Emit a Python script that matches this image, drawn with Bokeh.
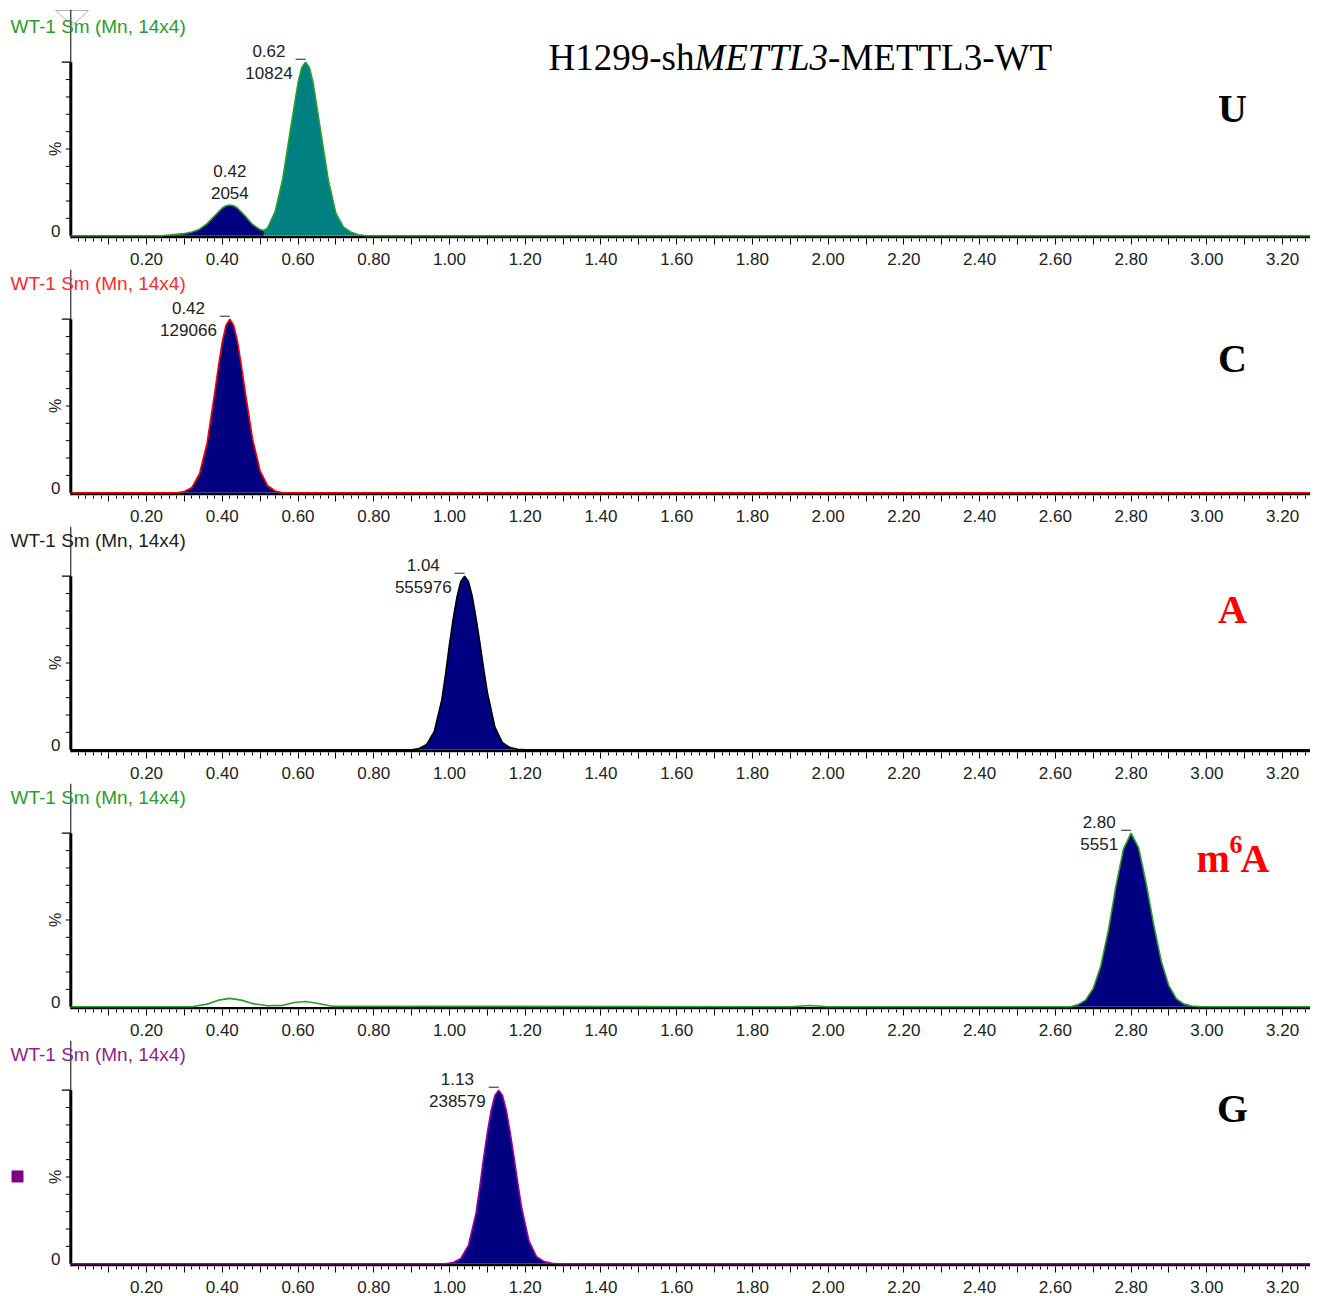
import math
from bokeh.plotting import figure
from bokeh.layouts import column
from bokeh.models import (FixedTicker, CustomJSTickFormatter, Label, Span,
                          PolyAnnotation, Range1d)
from bokeh.embed import file_html
from bokeh.resources import INLINE

# ---------------- data (retention time in min, intensity in %) ----------------
time_U = [0.00, 0.24, 0.26, 0.28, 0.30, 0.32, 0.34, 0.36, 0.38, 0.40, 0.41, 0.42,
          0.43, 0.44, 0.46, 0.48, 0.50, 0.51, 0.52, 0.54, 0.56, 0.58, 0.60, 0.61,
          0.62, 0.63, 0.64, 0.66, 0.68, 0.70, 0.72, 0.74, 0.76, 0.78, 3.30]
pct_U = [0, 0, 0.4, 0.8, 1.2, 2.2, 3.8, 7.0, 11.5, 16.0, 17.3, 17.7,
         17.3, 16.0, 11.5, 6.5, 3.5, 3.0, 4.5, 14, 33, 61, 88, 97,
         100, 97, 88, 60, 32, 13, 5, 2, 0.6, 0, 0]

time_C = [0.00, 0.28, 0.30, 0.32, 0.34, 0.36, 0.38, 0.39, 0.40, 0.41, 0.42, 0.43,
          0.44, 0.45, 0.46, 0.48, 0.50, 0.52, 0.54, 0.56, 3.30]
pct_C = [0, 0, 0.7, 3.1, 11, 28.7, 57.5, 73, 87, 96.6, 100, 96.6,
         87.5, 74, 59, 31, 12.5, 4, 1, 0, 0]

time_A = [0.00, 0.90, 0.92, 0.94, 0.96, 0.98, 0.99, 1.00, 1.01, 1.02, 1.03, 1.04,
          1.05, 1.06, 1.07, 1.08, 1.09, 1.10, 1.12, 1.14, 1.16, 1.18, 1.20, 3.30]
pct_A = [0, 0, 0.7, 3.0, 10.5, 29, 44, 60.7, 75.5, 88.2, 97, 100,
         97, 88.5, 76, 62, 47, 33, 13, 4, 1.2, 0.3, 0, 0]

time_m6A = [0.00, 0.32, 0.36, 0.39, 0.42, 0.45, 0.48, 0.52, 0.56, 0.59, 0.62, 0.65,
            0.69, 1.90, 1.95, 2.00, 2.64, 2.66, 2.68, 2.70, 2.72, 2.74, 2.76, 2.78,
            2.80, 2.82, 2.84, 2.86, 2.88, 2.90, 2.92, 2.94, 2.96, 2.98, 3.00, 3.30]
pct_m6A = [0, 0, 1.5, 3.8, 4.8, 3.8, 1.8, 0.6, 0.8, 2.4, 3.0, 2.0,
           0.3, 0, 0.7, 0, 0, 1.2, 3.8, 10.5, 23.5, 44, 69.5, 91,
           100, 91.5, 71, 47, 26, 12, 4.5, 1.5, 0.4, 0.1, 0, 0]

time_G = [0.00, 0.99, 1.01, 1.03, 1.05, 1.07, 1.08, 1.09, 1.10, 1.11, 1.12, 1.13,
          1.14, 1.15, 1.16, 1.17, 1.18, 1.19, 1.21, 1.23, 1.25, 1.27, 1.29, 3.30]
pct_G = [0, 0, 0.7, 3.0, 10.5, 29, 44, 60.7, 75.5, 88.2, 97, 100,
         97, 88.5, 76, 62, 47, 33, 13, 4, 1.2, 0.3, 0, 0]

# integrated peak windows (start, end)
fills_U = [(0.24, 0.51), (0.51, 0.78)]
fills_C = [(0.28, 0.56)]
fills_A = [(0.90, 1.20)]
fills_m6A = [(2.64, 3.00)]
fills_G = [(0.99, 1.29)]

# peak annotations: retention time, peak area, apex height (%)
peak_rt_U = [0.42, 0.62]
peak_area_U = [2054, 10824]
peak_h_U = [17.7, 100]
peak_rt_C = [0.42]
peak_area_C = [129066]
peak_h_C = [100]
peak_rt_A = [1.04]
peak_area_A = [555976]
peak_h_A = [100]
peak_rt_m6A = [2.80]
peak_area_m6A = [5551]
peak_h_m6A = [100]
peak_rt_G = [1.13]
peak_area_G = [238579]
peak_h_G = [100]

header_text = "WT-1 Sm (Mn, 14x4)"
y_percent_ticks = [10, 20, 30, 40, 50, 60, 70, 80, 90]

# ---------------- layout constants ----------------
PX_MIN = 378.67      # px per minute
PX_PCT = 1.735       # px per %
X0_PX = 70.3         # page x of t = 0
FRAME_W = 1310
BOTTOM = 31
Y0 = -1.6
X_START = -X0_PX / PX_MIN
X_END = X_START + FRAME_W / PX_MIN

GREEN = "#2a9d2a"
NAVY = "#000080"
TEAL = "#008080"
TXT = "#222222"
SANS = "Liberation Sans"
SERIF = "Liberation Serif"

x_major = [round(0.1 * k, 1) for k in range(1, 33)]
x_minor = [round(0.02 * k, 2) for k in range(1, 164) if k % 5 != 0]


def dx(px):
    return px / PX_MIN


def dy(px):
    return px / PX_PCT


def est_w(s, fs):
    return fs * sum(0.278 if c == "." else 0.556 for c in s)


def make_panel(times, pcts, fills, fill_colors, line_color, header_color,
               peaks, tag_parts, tag_y, frame_h=226, top=0, bottom=BOTTOM):
    p = figure(width=FRAME_W, height=top + frame_h + bottom,
               output_backend="svg", toolbar_location=None,
               x_range=Range1d(X_START, X_END),
               y_range=Range1d(Y0, Y0 + frame_h / PX_PCT),
               min_border_left=0, min_border_right=0,
               min_border_top=top, min_border_bottom=bottom)
    p.outline_line_color = None
    p.xgrid.visible = False
    p.ygrid.visible = False
    p.yaxis.visible = False
    p.background_fill_color = "white"
    p.border_fill_color = "white"

    # x axis (time)
    xa = p.xaxis[0]
    xa.ticker = FixedTicker(ticks=x_major, minor_ticks=x_minor)
    xa.formatter = CustomJSTickFormatter(
        code="return (Math.round(tick*10) % 2 == 0) ? tick.toFixed(2) : '';")
    xa.axis_line_color = None
    xa.major_tick_out = 6
    xa.major_tick_in = 0
    xa.minor_tick_out = 3
    xa.minor_tick_in = 0
    xa.major_tick_line_color = "black"
    xa.minor_tick_line_color = "black"
    xa.major_label_text_font = SANS
    xa.major_label_text_font_size = "17px"
    xa.major_label_text_color = TXT
    xa.major_label_standoff = 8
    # thick time-axis line starting at t = 0
    p.segment(x0=[0], y0=[Y0 + dy(1.3)], x1=[X_END], y1=[Y0 + dy(1.3)],
              line_width=2.6, line_color="black")

    # intensity scale at t = 0
    p.add_layout(Span(location=0, dimension="height", line_color="black",
                      line_width=1))
    p.segment(x0=[0], y0=[0], x1=[0], y1=[100], line_width=3, line_color="black")
    p.segment(x0=[-dx(5)] * len(y_percent_ticks), y0=y_percent_ticks,
              x1=[0] * len(y_percent_ticks), y1=y_percent_ticks,
              line_width=1, line_color="black")
    p.segment(x0=[-dx(9)], y0=[100], x1=[0], y1=[100], line_width=1.2,
              line_color="black")
    p.add_layout(Label(x=-dx(15), y=Y0 + dy(8), text="0", text_align="center",
                       text_baseline="middle", text_font_size="17px",
                       text_color=TXT, text_font=SANS))
    p.text(x=[-dx(15)], y=[50], text=["%"], angle=math.pi / 2,
           text_align="center", text_baseline="middle", text_font_size="16px",
           text_color=TXT, text_font={"value": SANS})

    # filled peaks
    for (t0, t1), fc in zip(fills, fill_colors):
        xs = [t for t in times if t0 <= t <= t1]
        ys = [v for t, v in zip(times, pcts) if t0 <= t <= t1]
        p.varea(x=xs, y1=[0] * len(xs), y2=ys, fill_color=fc)

    # trace
    p.line(times, pcts, line_color=line_color, line_width=1.6)

    # peak labels
    for style, rt, area, h in peaks:
        t1s = "%.2f" % rt
        t2s = str(area)
        if style == "above":
            pos = [(rt, h + dy(34), t1s), (rt, h + dy(12), t2s)]
        else:
            w = max(est_w(t1s, 17), est_w(t2s, 17))
            cx = rt - dx(13 + w / 2)
            pos = [(cx, h + dy(11), t1s), (cx, h - dy(11), t2s)]
            p.scatter(x=[rt - dx(5)], y=[h + dy(3)], marker="dash",
                      size=10, line_color=TXT, line_width=1)
        for x, y, s in pos:
            p.add_layout(Label(x=x, y=y, text=s, text_align="center",
                               text_baseline="middle", text_font=SANS,
                               text_font_size="17px", text_color=TXT))

    # header
    p.add_layout(Label(x=10, y=212, x_units="screen", y_units="screen",
                       text=header_text, text_align="left", text_baseline="middle",
                       text_font=SANS, text_font_size="19px", text_color=header_color))

    # compound tag
    for (tx, txt, fs, ddy, col, align) in tag_parts:
        p.add_layout(Label(x=tx, y=tag_y + ddy, x_units="screen", y_units="screen",
                           text=txt, text_align=align, text_baseline="middle",
                           text_font=SERIF, text_font_style="bold",
                           text_font_size=fs, text_color=col))
    return p


p1 = make_panel(time_U, pct_U, fills_U, [NAVY, TEAL], GREEN, GREEN,
                [("above", peak_rt_U[0], peak_area_U[0], peak_h_U[0]),
                 ("left", peak_rt_U[1], peak_area_U[1], peak_h_U[1])],
                [(1232, "U", "40px", 0, "black", "center")], 130,
                frame_h=229, top=9)
# title and marker triangle on the first panel
title_parts = [(548, "H1299-sh", "normal"), (693.9, "METTL3", "italic"),
               (827.6, "-METTL3-WT", "normal")]
for tx, txt, st in title_parts:
    p1.add_layout(Label(x=tx, y=181, x_units="screen", y_units="screen", text=txt,
                        text_align="left", text_baseline="alphabetic",
                        text_font=SERIF, text_font_style=st, text_font_size="37px",
                        text_color="black"))
p1.add_layout(PolyAnnotation(xs=[dx(-15.3), dx(17.7), dx(1.4)],
                             ys=[dy(225.2), dy(225.2), dy(210.2)],
                             fill_color=None, fill_alpha=0, line_color="black",
                             line_width=1))

p2 = make_panel(time_C, pct_C, fills_C, [NAVY], "#ff0000", "#ff2a2a",
                [("left", peak_rt_C[0], peak_area_C[0], peak_h_C[0])],
                [(1232, "C", "40px", 0, "black", "center")], 137)
p3 = make_panel(time_A, pct_A, fills_A, [NAVY], "black", TXT,
                [("left", peak_rt_A[0], peak_area_A[0], peak_h_A[0])],
                [(1232, "A", "40px", 0, "#ff0000", "center")], 143)
p4 = make_panel(time_m6A, pct_m6A, fills_m6A, [NAVY], GREEN, GREEN,
                [("left", peak_rt_m6A[0], peak_area_m6A[0], peak_h_m6A[0])],
                [(1196, "m", "40px", 0, "#ff0000", "left"),
                 (1229, "6", "26px", 14, "#ff0000", "left"),
                 (1240, "A", "40px", 0, "#ff0000", "left")], 151)
p5 = make_panel(time_G, pct_G, fills_G, [NAVY], "#a000a0", "#8e1f8e",
                [("left", peak_rt_G[0], peak_area_G[0], peak_h_G[0])],
                [(1232, "G", "40px", 0, "black", "center")], 158, bottom=30)
p5.scatter(x=[dx(17 - X0_PX)], y=[50.3], marker="square", size=11,
           fill_color="#800080", line_color="#800080")

layout = column(p1, p2, p3, p4, p5, spacing=0)
open("out.html", "w").write(file_html(layout, INLINE))
